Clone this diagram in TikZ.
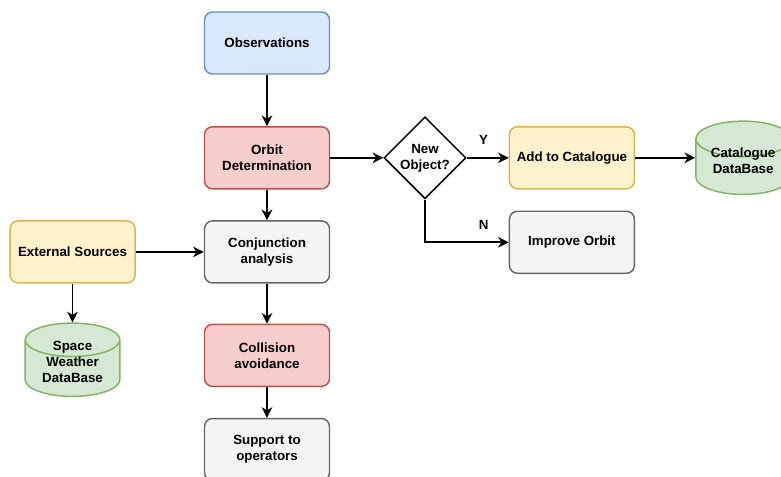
\documentclass[tikz,border=0pt]{standalone}
\usepackage{fontspec}
\setmainfont{Liberation Sans}
\usepackage{tikz}
\usetikzlibrary{arrows.meta, positioning, shapes.geometric}

\definecolor{blueFill}{HTML}{DAE8FC}
\definecolor{blueLine}{HTML}{6C8EBF}
\definecolor{redFill}{HTML}{F8CECC}
\definecolor{redLine}{HTML}{B85450}
\definecolor{greyFill}{HTML}{F5F5F5}
\definecolor{greyLine}{HTML}{666666}
\definecolor{yellowFill}{HTML}{FFF2CC}
\definecolor{yellowLine}{HTML}{D6B656}
\definecolor{greenFill}{HTML}{D5E8D4}
\definecolor{greenLine}{HTML}{82B366}

% text of a database cylinder, kept out of the shape's size
\newcommand{\dbtext}[1]{\raisebox{2.2pt}{\smash{\begin{tabular}{@{}c@{}}#1\end{tabular}}}}

\begin{document}
\begin{tikzpicture}[
  x=0.75pt, y=0.75pt,
  font=\bfseries\fontsize{10}{12}\selectfont,
  >={Stealth[length=8pt,width=8pt,inset=2.5pt]},
  procbox/.style={rectangle, rounded corners=6pt, line width=1.1pt,
        minimum width=93.75pt, minimum height=46.5pt,
        align=center, inner sep=2pt},
  bluebox/.style={procbox, draw=blueLine, fill=blueFill},
  redbox/.style={procbox, draw=redLine, fill=redFill},
  greybox/.style={procbox, draw=greyLine, fill=greyFill},
  yellowbox/.style={procbox, draw=yellowLine, fill=yellowFill},
  dbcyl/.style={cylinder, shape border rotate=90, aspect=0.55,
        draw=greenLine, fill=greenFill, line width=1.1pt,
        minimum width=71pt, minimum height=55pt, inner sep=0pt},
  decision/.style={diamond, draw=black, fill=white, line width=1.1pt,
        minimum width=61.5pt, minimum height=61.5pt,
        align=center, inner sep=0pt},
  flow/.style={->, line width=1.2pt, black},
  lbl/.style={font=\bfseries\fontsize{10}{12}\selectfont},
]
\useasboundingbox (0,0) rectangle (781,-477);

% --- main column ---
\node[bluebox] (obs) at (267,-43) {Observations};
\node[redbox, below=38.5pt of obs] (od) {Orbit\\Determination};
\node[greybox, below=23pt of od] (conj) {Conjunction\\analysis};
\node[redbox, below=30pt of conj] (coll) {Collision\\avoidance};
\node[greybox, below=23pt of coll] (supp) {Support to\\operators};

% --- left side ---
\node[yellowbox, left=51pt of conj] (ext) {External Sources};
\node[dbcyl, below=29pt of ext] (swdb) {\dbtext{Space\\Weather\\DataBase}};

% --- right side ---
\node[decision, right=39.75pt of od] (newobj) {New\\Object?};
\node[yellowbox, right=31.5pt of newobj] (add) {Add to Catalogue};
\node[greybox, below=15.75pt of add] (impr) {Improve Orbit};
\node[dbcyl, right=81pt of add, anchor=shape center] (catdb) {\dbtext{Catalogue\\DataBase}};

% --- arrows ---
\draw[flow] (obs) -- (od);
\draw[flow] (od) -- (conj);
\draw[flow] (conj) -- (coll);
\draw[flow] (coll) -- (supp);
\draw[flow] (ext) -- (conj);
\draw[flow] (ext) -- (swdb);
\draw[flow] (od) -- (newobj);
\draw[flow] (newobj) -- node[lbl, pos=0.4, above=6pt] {Y} (add);
\draw[flow] (add.east) -- (add.east -| catdb.west);
\draw[flow] (newobj.south) |- node[lbl, pos=0.85, above=6pt] {N} (impr.west);

\end{tikzpicture}
\end{document}
